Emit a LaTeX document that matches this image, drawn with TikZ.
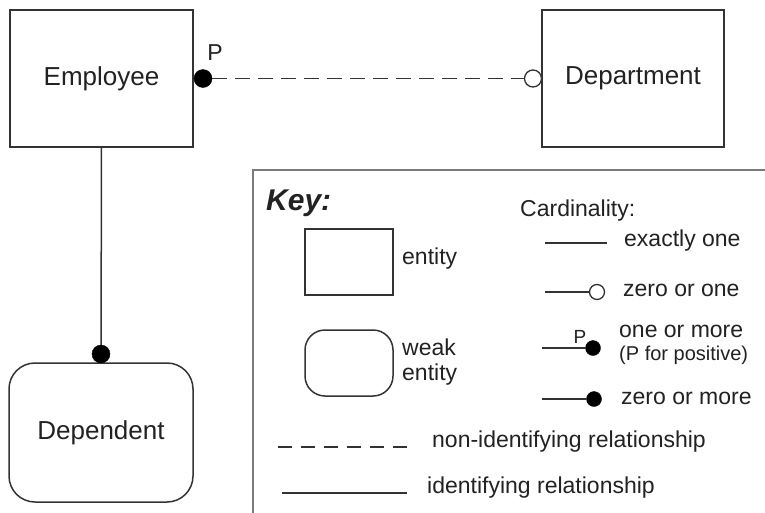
\documentclass[tikz,border=0pt]{standalone}
\usepackage{fontspec}
\setmainfont{Liberation Sans}
\usetikzlibrary{calc}
\definecolor{ln}{HTML}{333333}
\definecolor{tx}{HTML}{222222}
\definecolor{kb}{HTML}{7A7A7A}
\begin{document}
\begin{tikzpicture}[x=1pt,y=-1pt,
  ent/.style={draw=ln,line width=1.5pt,text=tx,inner sep=0pt,font=\fontsize{26}{30}\selectfont},
  conn/.style={draw=ln,line width=1.5pt},
  dsh/.style={conn,dash pattern=on 15pt off 8pt},
  fdot/.style={circle,fill=black,draw=black,inner sep=0pt,minimum size=#1},
  odot/.style={circle,fill=white,draw=ln,line width=1.3pt,inner sep=0pt,minimum size=#1},
  ktext/.style={text=tx,anchor=west,inner sep=0pt,font=\fontsize{23}{27}\selectfont},
  stext/.style={text=tx,anchor=west,inner sep=0pt,font=\fontsize{20}{24}\selectfont},
]
\useasboundingbox (0,0) rectangle (765,512);
\fill[white] (0,0) rectangle (765,512);
% entities
\node[ent,minimum width=183pt,minimum height=137pt] (emp) at (101.5,78.5) {Employee};
\node[ent,minimum width=182pt,minimum height=137pt] (dep) at (633,78.5) {Department};
\node[ent,rounded corners=26pt,minimum width=184pt,minimum height=139pt] (dpd) at (101,432.5) {Dependent};
% relationship Employee - Department
\node[fdot=18pt] (d1) at (203,78.5) {};
\node[odot=17pt] (o1) at (533,78.5) {};
\node[text=tx,inner sep=0pt,font=\fontsize{23}{27}\selectfont] (p1) at (215,53) {P};
\draw[dsh] (d1) -- (o1);
% Employee - Dependent
\node[fdot=18pt] (d2) at (101,354) {};
\draw[conn] (emp.south) -- (d2);
% key box
\draw[kb,line width=2.2pt] (253,513) -- (253,170) -- (766,170);
\node[anchor=base west,inner sep=0pt,text=tx,font=\fontsize{30}{34}\selectfont\bfseries\itshape] (key) at (266,210) {Key:};
\node[ktext] (card) at (520,211) {Cardinality:};
\node[ent,minimum width=88pt,minimum height=66pt] (kent) at (349,262) {};
\node[ktext] (kentl) at (402,259) {entity};
\node[ent,rounded corners=20pt,minimum width=88pt,minimum height=66pt] (kweak) at (349,363) {};
\node[ktext,align=left] (kweakl) at (402,362) {weak\\[-2pt]entity};
% cardinalities
\coordinate (c1a) at (545,243); \coordinate (c1b) at (607,243);
\draw[conn] (c1a) -- (c1b);
\node[ktext] (t1) at (624,241) {exactly one};
\coordinate (c2a) at (545,292);
\node[odot=15pt] (o2) at (597,292) {};
\draw[conn] (c2a) -- (o2);
\node[ktext] (t2) at (623,290) {zero or one};
\coordinate (c3a) at (542,348);
\node[fdot=15pt] (d3) at (593,348) {};
\draw[conn] (c3a) -- (d3);
\node[text=tx,inner sep=0pt,font=\fontsize{19}{22}\selectfont] (p3) at (580,337) {P};
\node[ktext] (t3) at (619,331) {one or more};
\node[stext] (t3b) at (619,355) {(P for positive)};
\coordinate (c4a) at (542,399);
\node[fdot=15pt] (d4) at (594,399) {};
\draw[conn] (c4a) -- (d4);
\node[ktext] (t4) at (621,398) {zero or more};
\coordinate (c5a) at (278,447); \coordinate (c5b) at (408,447);
\draw[conn,dash pattern=on 14pt off 9pt] (c5a) -- (c5b);
\node[ktext] (t5) at (432,442) {non-identifying relationship};
\coordinate (c6a) at (282,493); \coordinate (c6b) at (407,493);
\draw[conn] (c6a) -- (c6b);
\node[ktext] (t6) at (427,488) {identifying relationship};
\end{tikzpicture}
\end{document}
